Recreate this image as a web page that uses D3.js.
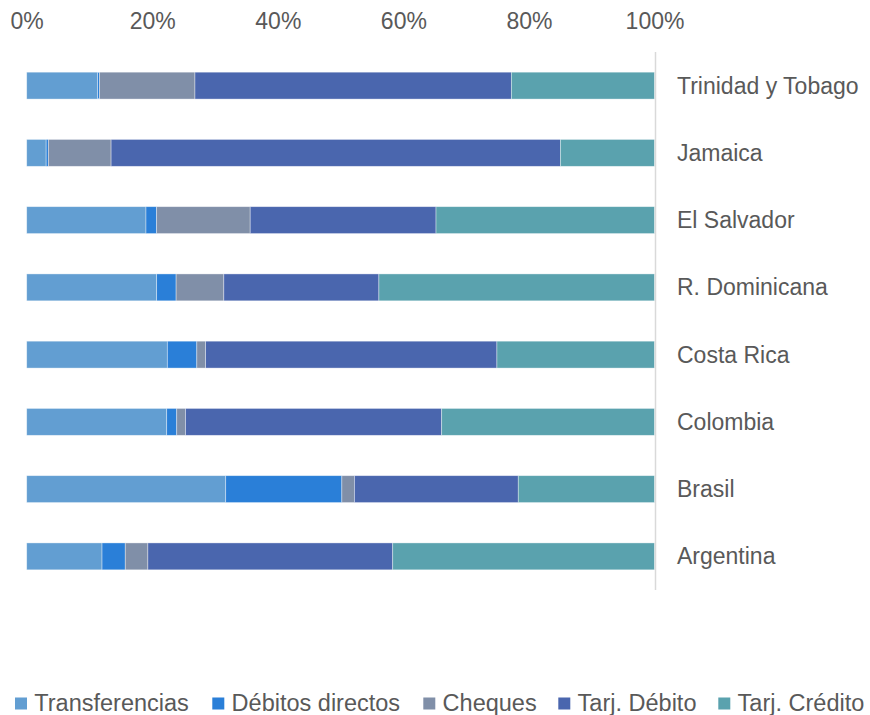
<!DOCTYPE html>
<html>
<head>
<meta charset="utf-8">
<script src="https://cdn.jsdelivr.net/npm/d3@7"></script>
<style>
  body { margin: 0; background: #fff; }
  text { font-family: "Liberation Sans", Arial, sans-serif; fill: #595959; }
</style>
</head>
<body>
<svg id="chart" width="870" height="715"></svg>
<script>
var paises = ["Trinidad y Tobago", "Jamaica", "El Salvador", "R. Dominicana",
	"Costa Rica", "Colombia", "Brasil", "Argentina"];
var series = ["Transferencias", "Débitos directos", "Cheques", "Tarj. Débito", "Tarj. Crédito"];
var colores = ["#629ed2", "#2a7fd8", "#808fa8", "#4a66ae", "#5aa2ae"];

var transferencias = [11.3, 3.1, 19.0, 20.7, 22.4, 22.3, 31.7, 12.0];
var debitosDirectos = [0.3, 0.35, 1.7, 3.1, 4.7, 1.6, 18.5, 3.7];
var cheques = [15.2, 10.0, 14.9, 7.6, 1.4, 1.4, 2.0, 3.6];
var tarjDebito = [50.4, 71.6, 29.6, 24.7, 46.4, 40.8, 26.1, 39.0];
var tarjCredito = [22.8, 15.0, 34.8, 43.9, 25.1, 33.9, 21.7, 41.7];

var ticks = [0, 0.2, 0.4, 0.6, 0.8, 1];

var svg = d3.select("#chart");
var mLeft = 26.7, mRight = 654.5, mTop = 52, mBottom = 590;

// rows as percent shares
var rows = paises.map(function(p, i) {
	var vals = [transferencias[i], debitosDirectos[i], cheques[i], tarjDebito[i], tarjCredito[i]];
	var tot = d3.sum(vals);
	var r = { pais: p };
	series.forEach(function(s, j) { r[s] = vals[j] / tot; });
	return r;
});

var x = d3.scaleLinear().domain([0, 1]).range([mLeft, mRight]);
var y = d3.scaleBand().domain(paises).range([mTop, mBottom])
	.paddingInner(0.6).paddingOuter(0.3);
var color = d3.scaleOrdinal().domain(series).range(colores);

var stacked = d3.stack().keys(series)(rows);

//top percent axis
var xAxis = svg.append("g")
	.attr("transform", "translate(0,29)")
	.call(d3.axisTop(x).tickValues(ticks).tickFormat(d3.format(".0%")).tickSize(0));
xAxis.select(".domain").remove();
xAxis.selectAll("text")
	.attr("dy", "0em")
	.attr("y", 0)
	.style("font-size", "23px")
	.style("font-family", "'Liberation Sans', Arial, sans-serif")
	.attr("fill", "#595959");

//bars
svg.append("g").selectAll("g")
	.data(stacked)
	.enter()
	.append("g")
	.attr("fill", function(d) { return color(d.key); })
	.selectAll("rect")
	.data(function(d) { return d; })
	.enter()
	.append("rect")
	.attr("x", function(d) { return x(d[0]); })
	.attr("y", function(d) { return y(d.data.pais); })
	.attr("width", function(d) { return x(d[1]) - x(d[0]); })
	.attr("height", y.bandwidth())
	.attr("stroke", "#ffffff")
	.attr("stroke-opacity", 0.5)
	.attr("stroke-width", 0.75);

//vertical axis line at right
svg.append("line")
	.attr("x1", mRight + 1).attr("x2", mRight + 1)
	.attr("y1", mTop).attr("y2", mBottom)
	.attr("stroke", "#d9d9d9")
	.attr("stroke-width", 1.5);

//category labels
svg.append("g").selectAll("text")
	.data(paises)
	.enter()
	.append("text")
	.attr("x", 677)
	.attr("y", function(d) { return y(d) + y.bandwidth() / 2; })
	.attr("dy", "0.35em")
	.style("font-size", "23px")
	.text(function(d) { return d; });

//legend
var legendX = [15, 212.3, 423.3, 558.3, 718.3];
var legend = svg.append("g").selectAll("g")
	.data(series)
	.enter()
	.append("g")
	.attr("transform", function(d, i) { return "translate(" + legendX[i] + ",697.5)"; });
legend.append("rect")
	.attr("x", 0).attr("y", 0)
	.attr("width", 12).attr("height", 12)
	.attr("fill", function(d) { return color(d); });
legend.append("text")
	.attr("x", 19.3)
	.attr("y", 13.5)
	.style("font-size", "23.5px")
	.text(function(d) { return d; });
</script>
</body>
</html>
